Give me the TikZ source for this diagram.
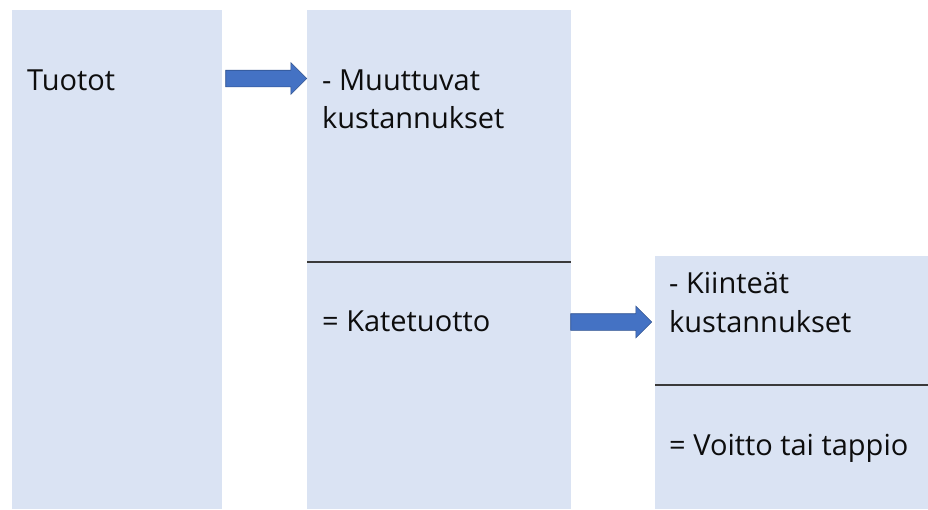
\documentclass[tikz,border=0pt]{standalone}
\usepackage{fontspec}
\setmainfont{Open Sans}
\usetikzlibrary{positioning,calc,shapes.arrows}
\definecolor{cBox}{HTML}{DAE3F3}
\definecolor{cArrow}{HTML}{4472C4}
\definecolor{cArrowLine}{HTML}{2F528F}
\definecolor{cRule}{HTML}{3A3A3A}
\definecolor{cText}{HTML}{0D0D0D}

\begin{document}
\begin{tikzpicture}[x=1pt, y=-1pt, font=\fontsize{29}{38.5}\selectfont,
    panel/.style={fill=cBox, draw=none, rectangle, inner sep=0pt, anchor=north west},
    blockarrow/.style={single arrow, fill=cArrow, draw=cArrowLine, line width=0.6pt,
      inner xsep=0pt, inner ysep=8pt, single arrow head extend=7.5pt,
      minimum height=81pt, anchor=west},
    label/.style={anchor=base west, inner sep=0pt, align=left, text=cText}]
        \useasboundingbox (0,0) rectangle (928,509);
        % columns
        \node[panel, minimum width=210pt, minimum height=499pt] (tuotot) at (12,10) {};
        \node[panel, minimum width=264pt, minimum height=499pt] (kate) at (307,10) {};
        \node[panel, minimum width=273pt, minimum height=253pt] (voitto) at (655,256) {};
        % dividers
        \draw[cRule, line width=1.1pt] ($(kate.north west)+(0,252)$) -- ($(kate.north east)+(0,252)$);
        \draw[cRule, line width=1.1pt] ($(voitto.north west)+(0,129)$) -- ($(voitto.north east)+(0,129)$);
        % block arrows
        \node[blockarrow] (arrA) at ($(tuotot.north east)+(3,68.5)$) {};
        \node[blockarrow] (arrB) at ($(kate.north east)+(-1,312)$) {};
        % texts (base = last line)
        \node[label] (tTuotot) at (27,90) {Tuotot};
        \node[label] (tMuutt) at (322,128.5) {- Muuttuvat\\kustannukset};
        \node[label] (tKate) at (322,331) {= Katetuotto};
        \node[label] (tKiint) at (669,332) {- Kiinteät\\kustannukset};
        \node[label] (tVoitto) at (669,455) {= Voitto tai tappio};
      \end{tikzpicture}
\end{document}
